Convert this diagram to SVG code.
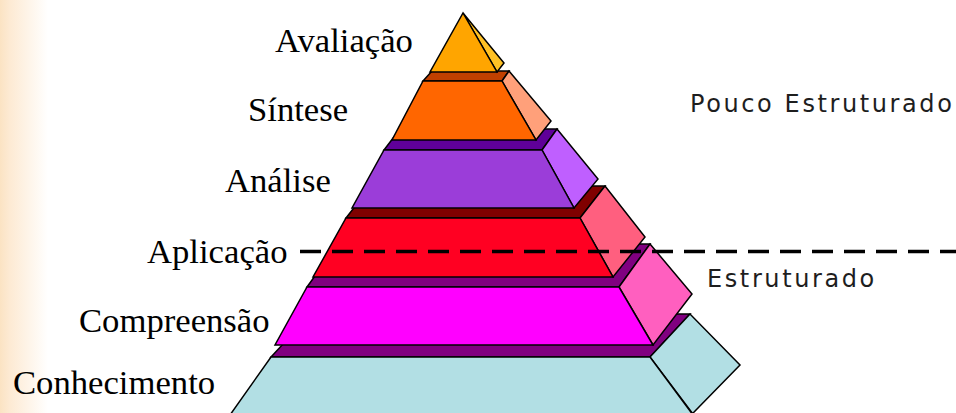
<svg xmlns="http://www.w3.org/2000/svg" width="956" height="413" viewBox="0 0 956 413">
<defs>
<linearGradient id="bg" x1="0" y1="0" x2="1" y2="0">
<stop offset="0" stop-color="#FBE3C3"/>
<stop offset="0.2" stop-color="#FDEAD3"/>
<stop offset="1" stop-color="#FFFFFF"/>
</linearGradient>
<style>
.f{stroke:#000;stroke-width:1.5;stroke-linejoin:miter}
.lbl{font-family:"Liberation Serif","Times New Roman",serif;font-size:34.67px;fill:#000}
.zone{font-family:"DejaVu Sans",Verdana,sans-serif;font-size:24px;letter-spacing:2.6px;fill:#1e1e1e}
.dash{stroke:#000;stroke-width:3.5;stroke-dasharray:21 11;fill:none}
</style>
</defs>
<rect x="0" y="0" width="956" height="413" fill="#fff"/>
<rect x="0" y="0" width="48" height="413" fill="url(#bg)"/>

<g id="conhecimento">
<polygon class="f" fill="#800080" points="271,357 311,314 690,314 650,357"/>
<polygon class="f" fill="#B2DFE4" points="650,357 690,314 740,365 692.6,413.5"/>
<polygon class="f" fill="#B2DFE4" points="271,357 650,357 693,415 230,415"/>
<text class="lbl" x="13" y="393.5">Conhecimento</text>
</g>

<g id="compreensao">
<polygon class="f" fill="#800080" points="307,287 338,244 650,244 619,287"/>
<polygon class="f" fill="#FF5FBF" points="619,287 650,244 692,294 653,345"/>
<polygon class="f" fill="#FF00FF" points="307,287 619,287 653,345 275,345"/>
<text class="lbl" x="79" y="332">Compreensão</text>
</g>

<g id="aplicacao">
<polygon class="f" fill="#800000" points="346,218 371,186 605,186 580,218"/>
<polygon class="f" fill="#FF5F7F" points="580,218 605,186 645,237 613,277"/>
<polygon class="f" fill="#FF0022" points="346,218 580,218 613,277 313,277"/>
<text class="lbl" x="147" y="263">Aplicação</text>
</g>

<g id="analise">
<polygon class="f" fill="#5F0099" points="384,150 400,129 557,129 542,150"/>
<polygon class="f" fill="#BF5FFF" points="542,150 557,129 598,179 574,208"/>
<polygon class="f" fill="#9B3DD9" points="384,150 542,150 574,208 352,208"/>
<text class="lbl" x="225" y="192">Análise</text>
</g>

<g id="sintese">
<polygon class="f" fill="#C04000" points="423,81 432,71 509,71 502,81"/>
<polygon class="f" fill="#FFA07A" points="502,81 509,71 551,121 536,140"/>
<polygon class="f" fill="#FF6600" points="423,81 502,81 536,140 392,140"/>
<text class="lbl" x="248" y="121">Síntese</text>
</g>

<g id="avaliacao">
<polygon class="f" fill="#FFC125" points="463,13 504,63 497,72"/>
<polygon class="f" fill="#FFA500" points="463,13 497,72 430,72"/>
<text class="lbl" x="275" y="52">Avaliação</text>
</g>

<g id="connectors">
<line class="dash" x1="300" y1="251.5" x2="956" y2="251.5"/>
</g>

<g id="zones">
<text class="zone" x="690" y="112">Pouco Estruturado</text>
<text class="zone" x="707" y="287">Estruturado</text>
</g>
</svg>
